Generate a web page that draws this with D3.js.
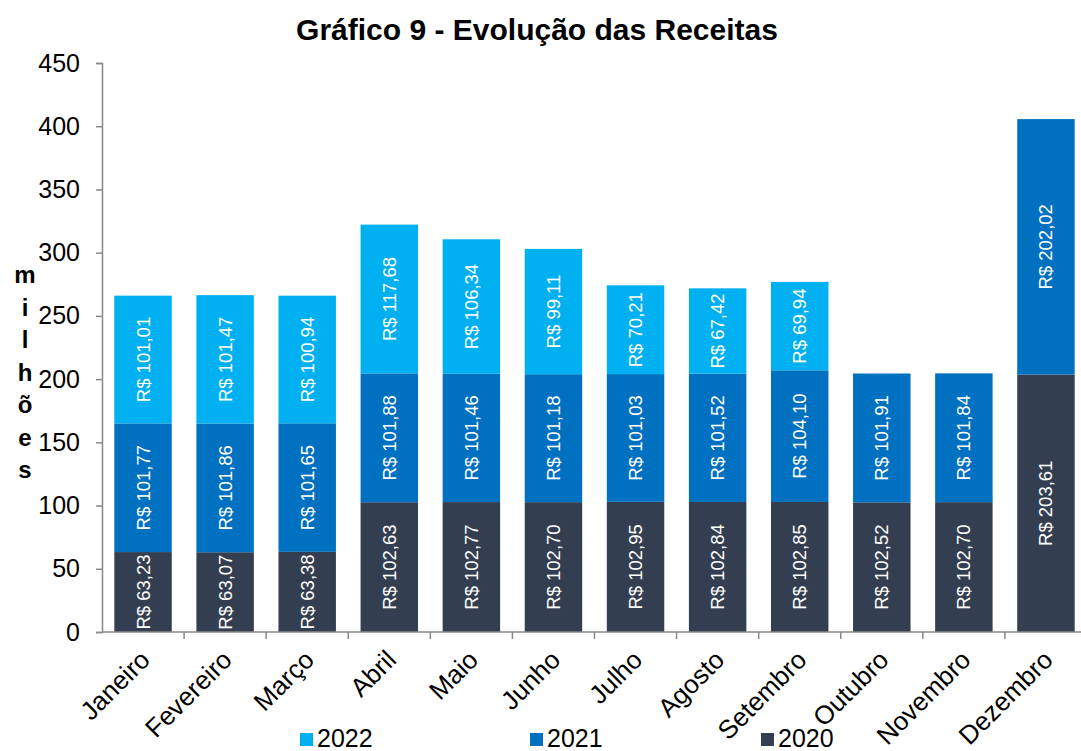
<!DOCTYPE html>
<html>
<head>
<meta charset="utf-8">
<script src="https://cdn.jsdelivr.net/npm/d3@7"></script>
<style>
  body { margin: 0; background: #fff; }
  svg { font-family: Arial, "Liberation Sans", sans-serif; }
</style>
</head>
<body>
<svg id="chart" width="1081" height="751"></svg>
<script>
const months = ["Janeiro", "Fevereiro", "Março", "Abril", "Maio", "Junho", "Julho",
  "Agosto", "Setembro", "Outubro", "Novembro", "Dezembro"];
const years = ["2020", "2021", "2022"];
const v2020 = [63.23, 63.07, 63.38, 102.63, 102.77, 102.70, 102.95, 102.84, 102.85, 102.52, 102.70, 203.61];
const v2021 = [101.77, 101.86, 101.65, 101.88, 101.46, 101.18, 101.03, 101.52, 104.10, 101.91, 101.84, 202.02];
const v2022 = [101.01, 101.47, 100.94, 117.68, 106.34, 99.11, 70.21, 67.42, 69.94, 0, 0, 0];
const yTicks = [0, 50, 100, 150, 200, 250, 300, 350, 400, 450];
const colors = { "2020": "#333f50", "2021": "#0070c0", "2022": "#00b0f0" };

const svg = d3.select("#chart");
const margin = { top: 63, left: 102, bottom: 119 };
const height = 751 - margin.top - margin.bottom;

const table = months.map((m, i) => ({ month: m, "2020": v2020[i], "2021": v2021[i], "2022": v2022[i] }));
const series = d3.stack().keys(years)(table);

const x = d3.scaleBand().domain(months).range([0, 985]).paddingInner(0.3).paddingOuter(0.15);
const y = d3.scaleLinear().domain([0, 450]).range([height, 0]);

const g = svg.append("g").attr("transform", `translate(${margin.left},${margin.top})`);

// title
svg.append("text")
  .attr("x", 537).attr("y", 40)
  .attr("text-anchor", "middle")
  .attr("font-size", 30).attr("font-weight", "bold")
  .text("Gráfico 9 - Evolução das Receitas");

// bars
const layer = g.selectAll("g.layer").data(series).enter().append("g")
  .attr("class", "layer")
  .attr("fill", d => colors[d.key]);

layer.selectAll("rect").data(d => d.filter(p => p[1] - p[0] > 0)).enter().append("rect")
  .attr("x", d => x(d.data.month))
  .attr("width", x.bandwidth())
  .attr("y", d => y(d[1]))
  .attr("height", d => y(d[0]) - y(d[1]));

const fmt = v => "R$ " + v.toFixed(2).replace(".", ",");

layer.each(function(s) {
  d3.select(this).selectAll("text").data(s.filter(p => p[1] - p[0] > 0)).enter().append("text")
    .attr("transform", d => `translate(${x(d.data.month) + x.bandwidth() / 2},${(y(d[0]) + y(d[1])) / 2}) rotate(-90)`)
    .attr("text-anchor", "middle")
    .attr("dy", "0.35em")
    .attr("fill", "#fff")
    .attr("font-size", 18.5)
    .text(d => fmt(d.data[s.key]));
});

// y axis
const yAxis = g.append("g")
  .call(d3.axisLeft(y).tickValues(yTicks).tickSize(6).tickPadding(16));
yAxis.selectAll("line, path").attr("stroke", "#888").attr("stroke-width", 1.5);
yAxis.selectAll("text").attr("font-size", 25).attr("fill", "#000").attr("font-family", "Arial, 'Liberation Sans', sans-serif");

// x axis with ticks at category boundaries
const xAxis = g.append("g").attr("transform", `translate(0,${height})`);
xAxis.append("line")
  .attr("x1", 0).attr("x2", 985)
  .attr("stroke", "#888").attr("stroke-width", 1.5);
xAxis.selectAll("line.tick").data(months).enter().append("line")
  .attr("x1", d => x(d) + x.bandwidth() + x.step() * x.paddingInner() / 2)
  .attr("x2", d => x(d) + x.bandwidth() + x.step() * x.paddingInner() / 2)
  .attr("y1", 0).attr("y2", 7)
  .attr("stroke", "#888").attr("stroke-width", 1.5);
xAxis.selectAll("text").data(months).enter().append("text")
  .attr("transform", d => `translate(${x(d) + x.bandwidth() / 2 + 2},${23}) rotate(-45)`)
  .attr("text-anchor", "end")
  .attr("dy", "0.35em")
  .attr("font-size", 26)
  .text(d => d);

// y label stacked letters
svg.append("g").selectAll("text").data("milhões".split("")).enter().append("text")
  .attr("x", 25).attr("y", (d, i) => 283 + i * 32.5)
  .attr("text-anchor", "middle")
  .attr("font-size", 24).attr("font-weight", "bold")
  .text(d => d);

// legend
const legendPos = [{ key: "2022", x: 300 }, { key: "2021", x: 530 }, { key: "2020", x: 761 }];
const lg = svg.append("g").selectAll("g").data(legendPos).enter().append("g")
  .attr("transform", d => `translate(${d.x},733)`);
lg.append("rect").attr("width", 13).attr("height", 13).attr("fill", d => colors[d.key]);
lg.append("text").attr("x", 17).attr("y", 14).attr("font-size", 25).text(d => d.key);
</script>
</body>
</html>
